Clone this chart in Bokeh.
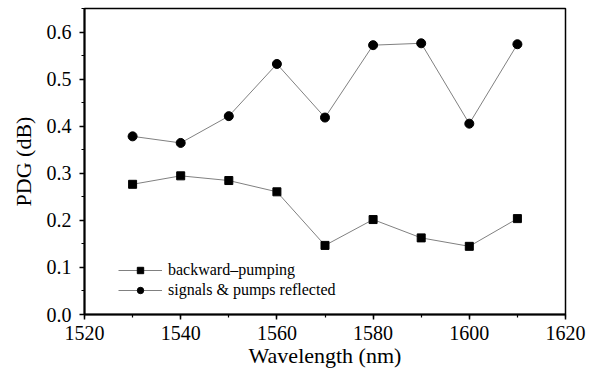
from bokeh.plotting import figure
from bokeh.embed import file_html
from bokeh.resources import INLINE
from bokeh.models import Range1d, FixedTicker, Legend, LegendItem, CustomJSTickFormatter

wavelength = [1530, 1540, 1550, 1560, 1570, 1580, 1590, 1600, 1610]
backward_pumping = [0.277, 0.295, 0.285, 0.261, 0.147, 0.202, 0.163, 0.145, 0.204]
signals_reflected = [0.379, 0.365, 0.422, 0.533, 0.419, 0.573, 0.577, 0.406, 0.575]

x_ticks = [1520, 1540, 1560, 1580, 1600, 1620]
y_ticks = [0.0, 0.1, 0.2, 0.3, 0.4, 0.5, 0.6]

FONT = "Liberation Serif"

p = figure(width=588, height=374, output_backend="svg", toolbar_location=None,
           x_range=Range1d(1520, 1620), y_range=Range1d(0.0, 0.651),
           min_border_left=84, min_border_right=23, min_border_top=8, min_border_bottom=60)

p.xgrid.visible = False
p.ygrid.visible = False
p.outline_line_color = "black"
p.outline_line_width = 1.5

for ax in (p.xaxis[0], p.yaxis[0]):
    ax.axis_line_width = 2
    ax.axis_line_color = "black"
    ax.major_tick_line_width = 1.5
    ax.minor_tick_line_width = 1.2
    ax.major_tick_in = 0
    ax.major_tick_out = 5
    ax.minor_tick_in = 0
    ax.minor_tick_out = 3
    ax.major_label_text_font = FONT
    ax.major_label_text_font_size = "20px"
    ax.major_label_text_color = "black"
    ax.axis_label_text_font = FONT
    ax.axis_label_text_font_size = "22px"
    ax.axis_label_text_font_style = "normal"
    ax.axis_label_text_color = "black"

p.xaxis.ticker = FixedTicker(ticks=x_ticks, minor_ticks=list(range(1520, 1621, 10)))
p.yaxis.ticker = FixedTicker(ticks=y_ticks, minor_ticks=[i * 0.05 for i in range(14)])
p.yaxis.formatter = CustomJSTickFormatter(code="return tick.toFixed(1);")
p.xaxis.axis_label = "Wavelength (nm)"
p.yaxis.axis_label = "PDG (dB)"
p.xaxis.major_label_standoff = 6
p.yaxis.major_label_standoff = 8
p.xaxis.axis_label_standoff = 0
p.yaxis.axis_label_standoff = 8

l1 = p.line(wavelength, backward_pumping, line_color="#808080", line_width=1)
m1 = p.scatter(wavelength, backward_pumping, marker="square", size=8,
               fill_color="black", line_color="black")
l2 = p.line(wavelength, signals_reflected, line_color="#808080", line_width=1)
m2 = p.scatter(wavelength, signals_reflected, marker="circle", size=9,
               fill_color="black", line_color="black")

legend = Legend(items=[
    LegendItem(label="backward\u2013pumping", renderers=[l1, m1]),
    LegendItem(label="signals & pumps reflected", renderers=[l2, m2]),
], location=(34, 15))
legend.border_line_color = None
legend.background_fill_alpha = 0
legend.label_text_font = FONT
legend.label_text_font_size = "16px"
legend.label_text_color = "black"
legend.glyph_width = 44
legend.glyph_height = 16
legend.spacing = 2
legend.padding = 4
legend.label_standoff = 6
p.add_layout(legend, "center")

open("out.html", "w").write(file_html(p, INLINE))
